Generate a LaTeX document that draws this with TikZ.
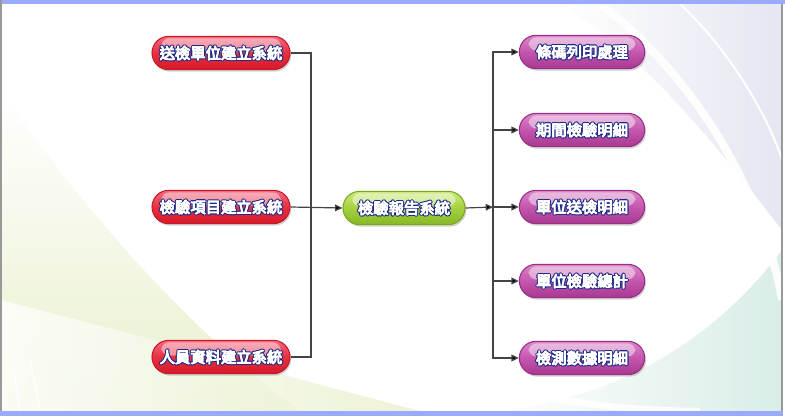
\documentclass[tikz,border=0pt]{standalone}
\usepackage{fontspec}
\newfontfamily\cjkb{Noto Sans CJK TC}
\usetikzlibrary{arrows.meta,shadows}
\definecolor{bandblue}{HTML}{99AAFF}
\definecolor{edgegray}{HTML}{999999}
\definecolor{navy}{HTML}{1A2A88}
\definecolor{linegray}{HTML}{444444}
\definecolor{redtop}{HTML}{F46A84}
\definecolor{redmid}{HTML}{E8303F}
\definecolor{redbot}{HTML}{D51A28}
\definecolor{redline}{HTML}{C81828}
\definecolor{grntop}{HTML}{CDEB7E}
\definecolor{grnmid}{HTML}{A6D03E}
\definecolor{grnbot}{HTML}{86B828}
\definecolor{grnline}{HTML}{78A820}
\definecolor{magtop}{HTML}{DA86C8}
\definecolor{magmid}{HTML}{C456AE}
\definecolor{magbot}{HTML}{A83890}
\definecolor{magline}{HTML}{9A2E84}
\definecolor{bgyel}{HTML}{E8F0CC}
\definecolor{bglav}{HTML}{DEE0EE}
\definecolor{bgteal}{HTML}{D0E9E2}
\newcommand{\pilltext}[1]{\rlap{\textcolor{navy}{\special{pdf:literal direct 2 Tr 2.3 w 1 j}#1\special{pdf:literal direct 0 Tr}}}\textcolor{white}{\special{pdf:literal direct 2 Tr 0.7 w 1 j}#1\special{pdf:literal direct 0 Tr}}}
\begin{document}
\begin{tikzpicture}[x=0.75pt,y=-0.75pt,
  pill/.style={draw, line width=0.8pt, rounded corners=12.5pt, minimum height=25pt,
    inner xsep=4pt, font=\cjkb\fontsize{11.5}{13}\selectfont,
    drop shadow={shadow xshift=1pt, shadow yshift=-1.5pt, opacity=0.35},
    path picture={\fill[white,opacity=0.45,rounded corners=6pt]
      ([xshift=7pt,yshift=-1.5pt]path picture bounding box.north west) rectangle
      ([xshift=-7pt,yshift=1pt]path picture bounding box.east);}},
  redpill/.style={pill, draw=redline, top color=redtop, bottom color=redbot, middle color=redmid, minimum width=103.5pt},
  grnpill/.style={pill, draw=grnline, top color=grntop, bottom color=grnbot, middle color=grnmid, minimum width=91.5pt},
  magpill/.style={pill, draw=magline, top color=magtop, bottom color=magbot, middle color=magmid, minimum width=94pt},
  conn/.style={draw=linegray, line width=0.9pt},
  arr/.style={conn, -{Triangle[length=5.5pt,width=5pt,fill=black]}}]
% background
\useasboundingbox (0,0) rectangle (785,417);
\fill[white] (0,0) rectangle (785,417);
\begin{scope}
\clip (1,4) rectangle (782,411);
\shade[top color=white, bottom color=bgyel] (0,90) .. controls (90,220) and (200,340) .. (300,411) -- (0,411) -- cycle;
\shade[left color=white, right color=bgyel, opacity=0.8] (0,300) .. controls (120,330) and (300,380) .. (420,411) -- (0,411) -- cycle;
\shade[left color=white, right color=bglav, opacity=0.8] (560,4) .. controls (650,60) and (720,150) .. (782,230) -- (782,4) -- cycle;
\shade[left color=white, right color=bgteal, opacity=0.8] (500,411) .. controls (640,395) and (730,320) .. (782,250) -- (782,411) -- cycle;
\draw[white, line width=6pt, opacity=0.9] (600,4) .. controls (700,80) and (765,200) .. (782,300);
\draw[white, line width=1.5pt] (680,4) .. controls (730,50) and (770,120) .. (782,160);
\draw[white, line width=5pt, opacity=0.9] (180,200) .. controls (300,330) and (480,411) .. (700,411);
\draw[white, line width=1pt] (14,370) -- (20,411);
\draw[white, line width=1pt] (30,360) -- (40,411);
\end{scope}
% frame
\fill[bandblue] (0,0) rectangle (785,4);
\fill[bandblue] (0,411) rectangle (783,415.5);
\fill[edgegray] (0,0) rectangle (1.5,411);
\fill[edgegray] (781,4) rectangle (782.5,411);
% nodes
\node[redpill] (l1) at (221,53) {\pilltext{送檢單位建立系統}};
\node[redpill] (l2) at (221,207) {\pilltext{檢驗項目建立系統}};
\node[redpill] (l3) at (221,357) {\pilltext{人員資料建立系統}};
\node[grnpill] (c) at (404,208) {\pilltext{檢驗報告系統}};
\node[magpill] (r1) at (582,52) {\pilltext{條碼列印處理}};
\node[magpill] (r2) at (582,130) {\pilltext{期間檢驗明細}};
\node[magpill] (r3) at (582,207) {\pilltext{單位送檢明細}};
\node[magpill] (r4) at (582,281) {\pilltext{單位檢驗總計}};
\node[magpill] (r5) at (582,358) {\pilltext{檢測數據明細}};
% connectors
\coordinate (jl) at (311,207);
\coordinate (jr) at (493,207);
\draw[conn] (l1.east) -| (jl);
\draw[conn] (l3.east) -| (jl);
\draw[arr] (l2.east) -- (c.west);
\draw[arr] (c.east) -- (jr);
\draw[arr] (jr) |- (r1.west);
\draw[arr] (jr) |- (r2.west);
\draw[arr] (jr) -- (r3.west);
\draw[arr] (jr) |- (r4.west);
\draw[arr] (jr) |- (r5.west);
\end{tikzpicture}
\end{document}
